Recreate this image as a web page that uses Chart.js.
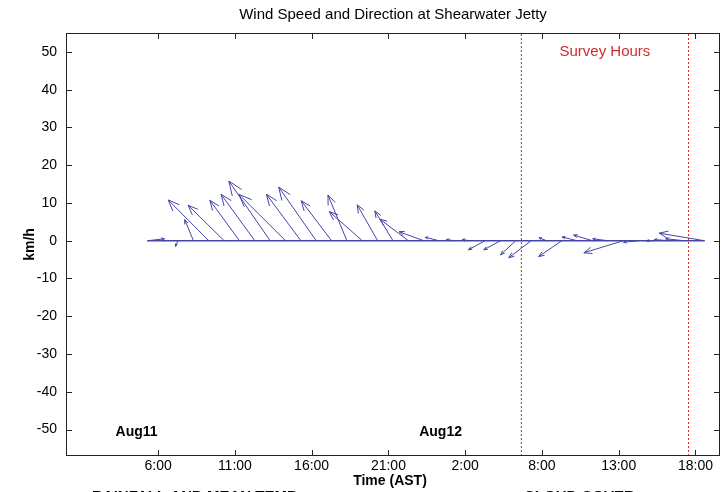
<!DOCTYPE html>
<html><head><meta charset="utf-8">
<script src="https://cdn.jsdelivr.net/npm/chart.js@4/dist/chart.umd.min.js"></script>
<style>html,body{margin:0;padding:0;background:#fff}#wrap{width:725px;height:492px;position:relative}</style>
</head><body><div id="wrap"><canvas id="c" width="725" height="492"></canvas></div>
<script>
// Time of each observation, hours since Aug11 00:00 (AST)
const times = [5.3,6.3,7.3,8.3,9.3,10.3,11.3,12.3,13.3,14.3,15.3,16.3,17.3,18.3,19.3,20.3,21.3,22.3,23.3,24.3,25.3,26.3,27.3,28.3,29.3,30.3,31.3,32.3,33.3,34.3,35.3,36.3,37.3,38.3,39.3,40.3,41.6];
// East-west wind component (km/h)
const uWind = [4.5,0.5,-0.7,-2.3,-10.7,-9.5,-7.8,-8.9,-10.9,-12.3,-9.1,-9.9,-8.0,-5.0,-8.7,-5.4,-4.8,-7.5,-6.5,-3.6,-2.1,-2.0,-4.4,-4.4,-4.0,-5.9,-2.0,-6.1,-4.0,-5.0,-4.0,-10.4,-4.0,-2.0,-4.0,-5.0,-12.0];
// North-south wind component (km/h)
const vWind = [0.5,0.0,-1.5,5.6,10.8,9.4,10.7,12.3,15.8,12.3,12.3,14.2,10.6,12.1,7.7,9.5,7.9,5.7,2.4,0.9,0.3,0.3,-2.4,-2.4,-3.7,-4.5,0.8,-4.2,1.0,1.5,0.5,-3.2,-0.4,0.0,0.3,0.5,2.0];
const xTickValues = [6,11,16,21,26,31,36,41];
const xTickLabels = ['6:00','11:00','16:00','21:00','2:00','8:00','13:00','18:00'];
const yTickValues = [-50,-40,-30,-20,-10,0,10,20,30,40,50];
const surveyBounds = [29.66, 40.55];
const dayLabels = ['Aug11','Aug12'];
const dayLabelX = [4.6, 24.4];

const X_MIN = 0, X_MAX = 42.6, Y_MIN = -57, Y_MAX = 55;
const U_TO_HOURS = 0.247; // x-axis hours per km/h of east-west wind
const BLUE = '#4444aa';
const RED = '#d42a2a';

const vecData = [];
times.forEach((t, i) => {
  vecData.push({x: t, y: 0});
  vecData.push({x: t + uWind[i] * U_TO_HOURS, y: vWind[i]});
  vecData.push({x: t, y: null});
});

const decor = {
  id: 'decor',
  afterDatasetsDraw(chart) {
    const ctx = chart.ctx, xs = chart.scales.x, ys = chart.scales.y;
    ctx.save();
    ctx.strokeStyle = BLUE; ctx.lineWidth = 1;
    times.forEach((t, i) => {
      const x0 = xs.getPixelForValue(t), y0 = ys.getPixelForValue(0);
      const x1 = xs.getPixelForValue(t + uWind[i] * U_TO_HOURS), y1 = ys.getPixelForValue(vWind[i]);
      const dx = x1 - x0, dy = y1 - y0, len = Math.hypot(dx, dy);
      if (len < 2) return;
      const a = Math.atan2(dy, dx), h = Math.max(3, 0.21 * len), th = 0.38;
      ctx.beginPath();
      ctx.moveTo(x1 - h * Math.cos(a - th), y1 - h * Math.sin(a - th));
      ctx.lineTo(x1, y1);
      ctx.lineTo(x1 - h * Math.cos(a + th), y1 - h * Math.sin(a + th));
      ctx.stroke();
    });
    ctx.restore();
  },
  afterDraw(chart) {
    const ctx = chart.ctx, xs = chart.scales.x, ys = chart.scales.y, ca = chart.chartArea;
    ctx.save();
    ctx.strokeStyle = '#222'; ctx.lineWidth = 1;
    ctx.strokeRect(Math.round(ca.left) + 0.5, Math.round(ca.top) + 0.5, Math.round(ca.right - ca.left) - 1, Math.round(ca.bottom - ca.top) - 1);
    ctx.beginPath();
    xTickValues.forEach(v => {
      const x = Math.round(xs.getPixelForValue(v)) + 0.5;
      ctx.moveTo(x, ca.bottom); ctx.lineTo(x, ca.bottom - 6);
      ctx.moveTo(x, ca.top); ctx.lineTo(x, ca.top + 6);
    });
    yTickValues.forEach(v => {
      const y = Math.round(ys.getPixelForValue(v)) + 0.5;
      ctx.moveTo(ca.left, y); ctx.lineTo(ca.left + 6, y);
      ctx.moveTo(ca.right, y); ctx.lineTo(ca.right - 6, y);
    });
    ctx.stroke();
    ctx.fillStyle = '#000';
    ctx.textAlign = 'center'; ctx.textBaseline = 'middle';
    ctx.font = '15px "Liberation Sans", Arial, sans-serif';
    ctx.fillText('Wind Speed and Direction at Shearwater Jetty', (ca.left + ca.right) / 2, 15);
    ctx.font = 'bold 14px "Liberation Sans", Arial, sans-serif';
    ctx.fillText('Time (AST)', (ca.left + ca.right) / 2 - 3, 481);
    ctx.save();
    ctx.translate(30, (ca.top + ca.bottom) / 2);
    ctx.rotate(-Math.PI / 2);
    ctx.fillText('km/h', 0, 0);
    ctx.restore();
    dayLabels.forEach((d, i) => {
      ctx.fillText(d, xs.getPixelForValue(dayLabelX[i]), ys.getPixelForValue(-50.7));
    });
    ctx.fillStyle = RED;
    ctx.font = '15px "Liberation Sans", Arial, sans-serif';
    ctx.fillText('Survey Hours', xs.getPixelForValue((surveyBounds[0] + surveyBounds[1]) / 2), ys.getPixelForValue(50));
    ctx.fillStyle = '#000';
    ctx.textAlign = 'left'; ctx.textBaseline = 'alphabetic';
    ctx.font = 'bold 15px "Liberation Sans", Arial, sans-serif';
    ctx.fillText('RAINFALL AND MEAN TEMP', 92, 501);
    ctx.fillText('CLOUD COVER', 524, 501);
    ctx.restore();
  }
};

new Chart(document.getElementById('c'), {
  type: 'scatter',
  data: {
    datasets: [
      {data: vecData, showLine: true, spanGaps: false, borderColor: BLUE, borderWidth: 1, pointRadius: 0},
      {data: [{x: times[0], y: 0}, {x: times[times.length - 1], y: 0}], showLine: true, borderColor: BLUE, borderWidth: 1.6, pointRadius: 0},
      {data: [{x: surveyBounds[0], y: Y_MIN}, {x: surveyBounds[0], y: Y_MAX}], showLine: true, borderColor: RED, borderWidth: 1, borderDash: [2, 2], pointRadius: 0},
      {data: [{x: surveyBounds[1], y: Y_MIN}, {x: surveyBounds[1], y: Y_MAX}], showLine: true, borderColor: RED, borderWidth: 1, borderDash: [2, 2], pointRadius: 0}
    ]
  },
  options: {
    responsive: false, animation: false, devicePixelRatio: 1,
    layout: {padding: {top: 33, right: 5, left: 0, bottom: 0}},
    plugins: {legend: {display: false}, tooltip: {enabled: false}, title: {display: false}},
    scales: {
      x: {
        type: 'linear', min: X_MIN, max: X_MAX,
        grid: {display: false, drawTicks: false}, border: {display: false},
        afterBuildTicks: s => { s.ticks = xTickValues.map(v => ({value: v})); },
        afterFit: s => { s.height = 36; },
        ticks: {autoSkip: false, maxRotation: 0, padding: 2, color: '#000',
          font: {size: 14, family: '"Liberation Sans", Arial, sans-serif'},
          callback: (v, i) => xTickLabels[i]}
      },
      y: {
        min: Y_MIN, max: Y_MAX,
        grid: {display: false, drawTicks: false}, border: {display: false},
        afterBuildTicks: s => { s.ticks = yTickValues.map(v => ({value: v})); },
        afterFit: s => { s.width = 66; },
        ticks: {autoSkip: false, padding: 9, color: '#000',
          font: {size: 14, family: '"Liberation Sans", Arial, sans-serif'}}
      }
    }
  },
  plugins: [decor]
});
</script></body></html>
